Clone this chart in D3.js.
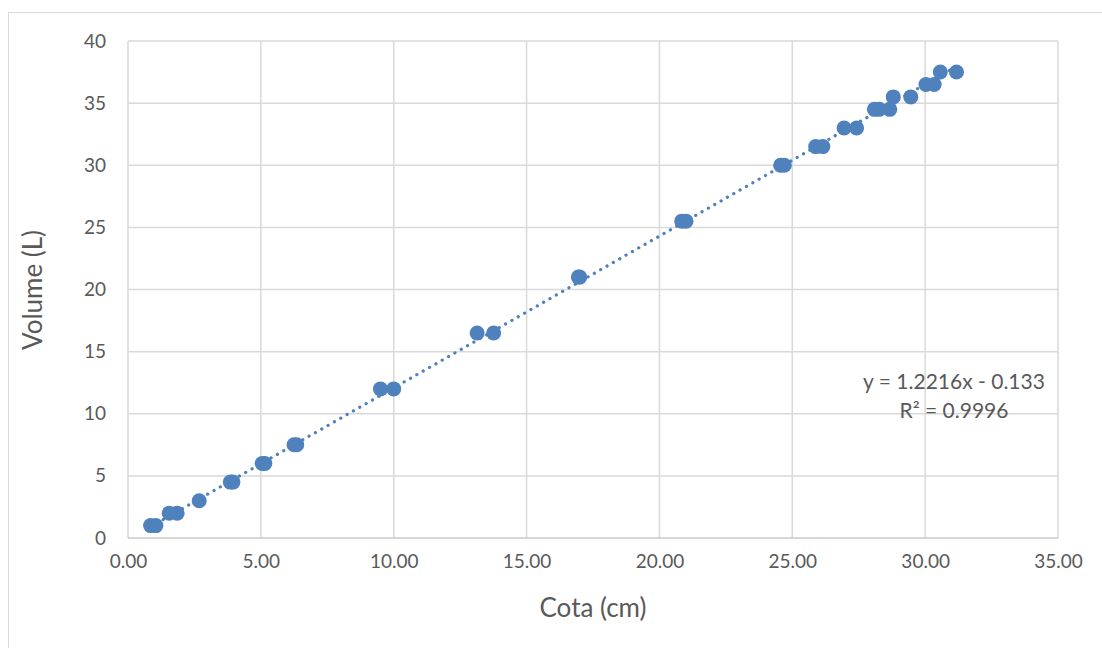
<!DOCTYPE html>
<html>
<head>
<meta charset="utf-8">
<script src="https://cdn.jsdelivr.net/npm/d3@7"></script>
<style>
  body { margin: 0; background: #fff; }
  text { font-family: Lato, "Open Sans", sans-serif; fill: #595959; }
</style>
</head>
<body>
<script>

// readings from the chart
var cota = [0.85, 1.05, 1.55, 1.85, 2.68, 3.85, 3.95, 5.05, 5.15, 6.25, 6.35,
            9.5, 10.0, 13.14, 13.76, 17.0, 16.95, 20.84, 21.0, 24.56, 24.7,
            25.88, 26.15, 26.95, 27.42, 28.09, 28.27, 28.67, 28.8, 29.46,
            30.03, 30.34, 30.57, 31.18];
var volume = [1, 1, 2, 2, 3, 4.5, 4.5, 6, 6, 7.5, 7.5,
              12, 12, 16.5, 16.5, 21, 21, 25.5, 25.5, 30, 30,
              31.5, 31.5, 33, 33, 34.5, 34.5, 34.5, 35.5, 35.5,
              36.5, 36.5, 37.5, 37.5];
var slope = 1.2216, intercept = -0.133;
var xTicks = [0, 5, 10, 15, 20, 25, 30, 35];
var yTicks = [0, 5, 10, 15, 20, 25, 30, 35, 40];

var width = 1102, height = 648;
var plotL = 128, plotR = 1058, plotT = 41, plotB = 538;
var blue = "#4f81bd";

var points = cota.map(function(c, i){ return {x: c, y: volume[i]}; });

var svg = d3.select("body").append("svg")
    .attr("width", width)
    .attr("height", height);

// chart frame
svg.append("rect")
    .attr("x", 8.5).attr("y", 12.5)
    .attr("width", 1110).attr("height", 700)
    .attr("fill", "none")
    .attr("stroke", "#d9d9d9");

var x = d3.scaleLinear().domain([0, 35]).range([plotL, plotR]);
var y = d3.scaleLinear().domain([0, 40]).range([plotB, plotT]);

// grid
svg.append("g")
    .selectAll("line")
    .data(xTicks)
    .enter().append("line")
    .attr("x1", function(d){ return x(d); })
    .attr("x2", function(d){ return x(d); })
    .attr("y1", plotT).attr("y2", plotB)
    .attr("stroke", "#d9d9d9").attr("stroke-width", 1.5);

svg.append("g")
    .selectAll("line")
    .data(yTicks)
    .enter().append("line")
    .attr("x1", plotL).attr("x2", plotR)
    .attr("y1", function(d){ return y(d); })
    .attr("y2", function(d){ return y(d); })
    .attr("stroke", function(d){ return d == 0 ? "#c8c8c8" : "#d9d9d9"; })
    .attr("stroke-width", 1.5);

// tick labels
var xAxis = svg.append("g")
    .attr("transform", "translate(0," + plotB + ")")
    .call(d3.axisBottom(x).tickValues(xTicks).tickSize(0).tickPadding(17)
          .tickFormat(d3.format(".2f")));
var yAxis = svg.append("g")
    .attr("transform", "translate(" + plotL + ",0)")
    .call(d3.axisLeft(y).tickValues(yTicks).tickSize(0).tickPadding(22));
[xAxis, yAxis].forEach(function(a){
  a.select(".domain").remove();
  a.selectAll("text").style("font-size", "19px").attr("fill", "#595959")
   .style("font-family", "Lato, 'Open Sans', sans-serif");
});

// axis titles
svg.append("text")
    .attr("x", 593).attr("y", 617)
    .attr("text-anchor", "middle")
    .style("font-size", "26px")
    .text("Cota (cm)");

svg.append("text")
    .attr("transform", "translate(42,290) rotate(-90)")
    .attr("text-anchor", "middle")
    .style("font-size", "26px")
    .text("Volume (L)");

// trendline
var xMin = d3.min(cota), xMax = d3.max(cota);
svg.append("line")
    .attr("x1", x(xMin)).attr("y1", y(slope * xMin + intercept))
    .attr("x2", x(xMax)).attr("y2", y(slope * xMax + intercept))
    .attr("stroke", blue)
    .attr("stroke-width", 3.2)
    .attr("stroke-linecap", "round")
    .attr("stroke-dasharray", "0.1,7.2");

// points
svg.append("g")
    .selectAll("circle")
    .data(points)
    .enter().append("circle")
    .attr("cx", function(d){ return x(d.x); })
    .attr("cy", function(d){ return y(d.y); })
    .attr("r", 7.5)
    .attr("fill", blue);

// equation
var eq = svg.append("text")
    .attr("text-anchor", "middle")
    .style("font-size", "21px");
eq.append("tspan").attr("x", 954).attr("y", 389)
    .text("y = " + slope + "x - " + Math.abs(intercept));
eq.append("tspan").attr("x", 954).attr("y", 418)
    .text("R² = 0.9996");

</script>
</body>
</html>
